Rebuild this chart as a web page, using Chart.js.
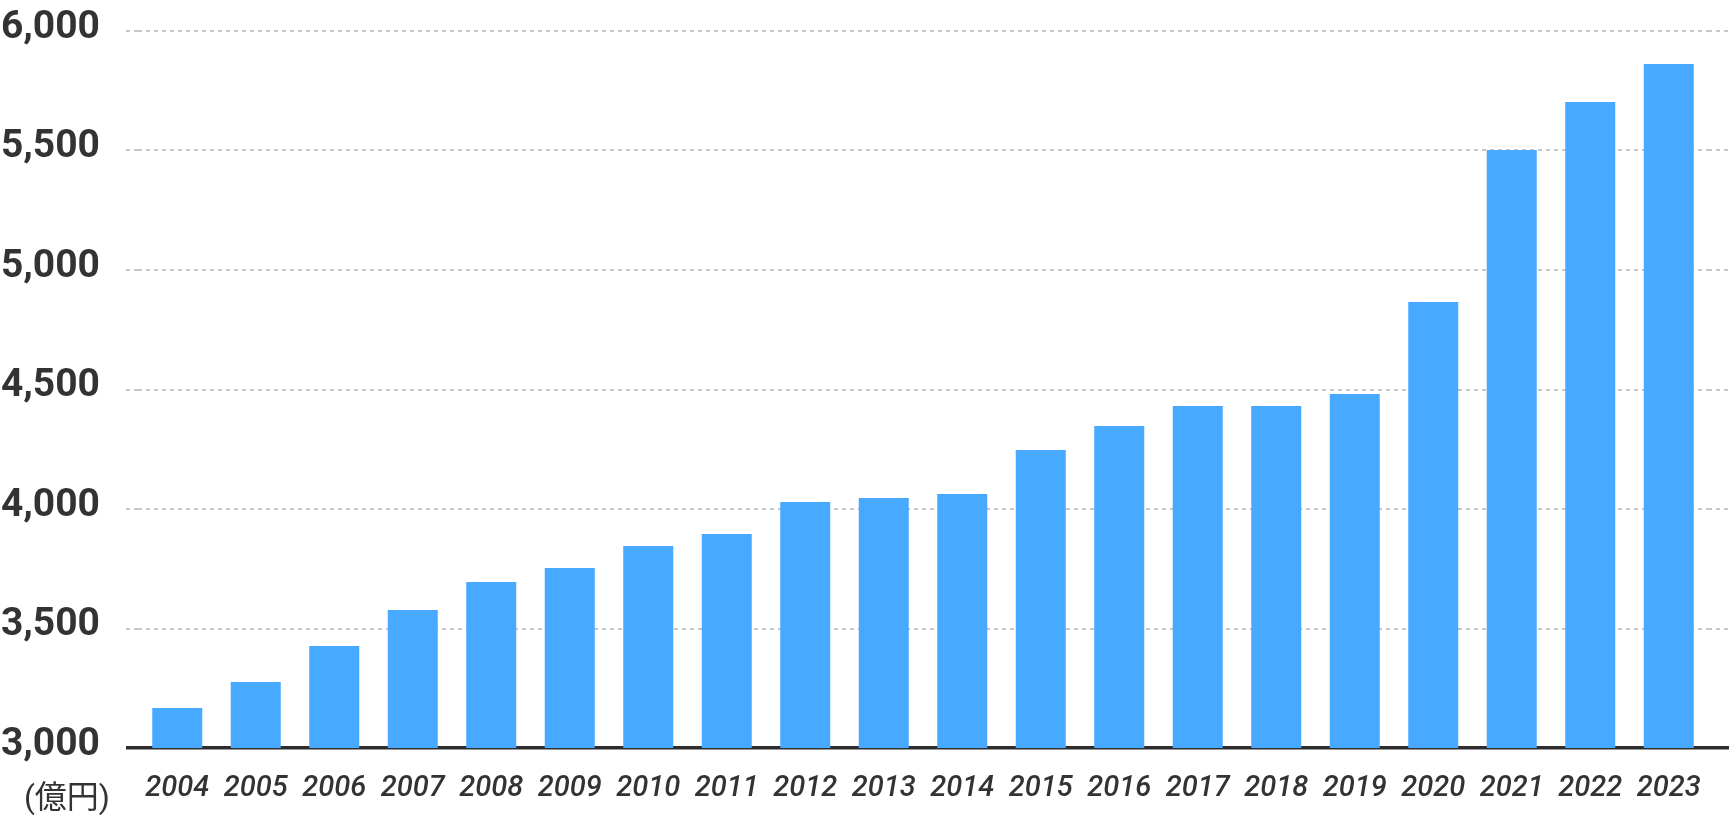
<!DOCTYPE html>
<html lang="ja">
<head>
<meta charset="utf-8">
<script src="https://cdn.jsdelivr.net/npm/chart.js@4/dist/chart.umd.min.js"></script>
<style>
  html, body { margin: 0; padding: 0; background: #fff; }
  #wrap { position: relative; width: 1729px; height: 817px; }
  #unit {
    position: absolute; right: calc(1729px - 110px); top: 781px;
    font-family: Roboto, 'Noto Sans CJK JP', sans-serif; font-size: 32px; line-height: 32px; color: #333;
    white-space: nowrap;
  }
</style>
</head>
<body>
<div id="wrap">
  <canvas id="salesChart"></canvas>
  <div id="unit">(億円)</div>
</div>
<script>
// 年度
const years = ['2004', '2005', '2006', '2007', '2008', '2009', '2010', '2011', '2012', '2013',
  '2014', '2015', '2016', '2017', '2018', '2019', '2020', '2021', '2022', '2023'];
// 売上 (億円)
const sales = [3167, 3276, 3427, 3577, 3695, 3753, 3845, 3895, 4029, 4046,
  4063, 4247, 4347, 4431, 4431, 4481, 4866, 5502, 5703, 5862];
// y axis range
const yMin = 3000;
const yMax = 6000;
const yStep = 500;

const isBase = (c) => c.tick && c.tick.value === yMin;
const lineColor = (c) => isBase(c) ? 'rgba(0,0,0,0.82)' : 'rgba(0,0,0,0.22)';
const lineWidth = (c) => isBase(c) ? 3.5 : 2;
const lineDash = (c) => isBase(c) ? [] : [4, 4];

const ctx = document.getElementById('salesChart').getContext('2d');
new Chart(ctx, {
  type: 'bar',
  data: {
    labels: years,
    datasets: [{
      data: sales,
      backgroundColor: '#47a9ff',
      borderWidth: 0,
      barPercentage: 0.637,
      categoryPercentage: 1
    }]
  },
  options: {
    responsive: true,
    maintainAspectRatio: false,
    animation: false,
    layout: { padding: { top: 31, bottom: 0, left: 0, right: 0 } },
    plugins: { legend: { display: false }, tooltip: { enabled: false } },
    scales: {
      x: {
        grid: { display: false },
        border: { display: false },
        afterFit: (s) => { s.height = 69; s.paddingLeft = 0; s.paddingRight = 0; },
        ticks: {
          color: '#333',
          padding: 15,
          maxRotation: 0,
          font: { family: 'Roboto', size: 29, style: 'italic', weight: 500 }
        }
      },
      y: {
        min: yMin,
        max: yMax,
        z: 1,
        afterFit: (s) => { s.width = 138; s.paddingTop = 0; s.paddingBottom = 0; },
        border: { display: false, dash: lineDash },
        grid: {
          color: lineColor,
          lineWidth: lineWidth,
          tickColor: lineColor,
          tickWidth: lineWidth,
          tickBorderDash: lineDash,
          tickLength: 12
        },
        ticks: {
          stepSize: yStep,
          color: '#333',
          padding: 26,
          labelOffset: -3,
          font: { family: 'Roboto', size: 39, weight: 'bold' }
        }
      },
      // right side only extends the grid lines
      y2: {
        position: 'right',
        min: yMin,
        max: yMax,
        z: 1,
        afterFit: (s) => { s.width = 21; s.paddingTop = 0; s.paddingBottom = 0; },
        border: { display: false, dash: lineDash },
        grid: {
          drawOnChartArea: false,
          color: lineColor,
          lineWidth: lineWidth,
          tickColor: lineColor,
          tickWidth: lineWidth,
          tickBorderDash: lineDash,
          tickLength: 21
        },
        ticks: { stepSize: yStep, display: false }
      }
    }
  }
});
</script>
</body>
</html>
